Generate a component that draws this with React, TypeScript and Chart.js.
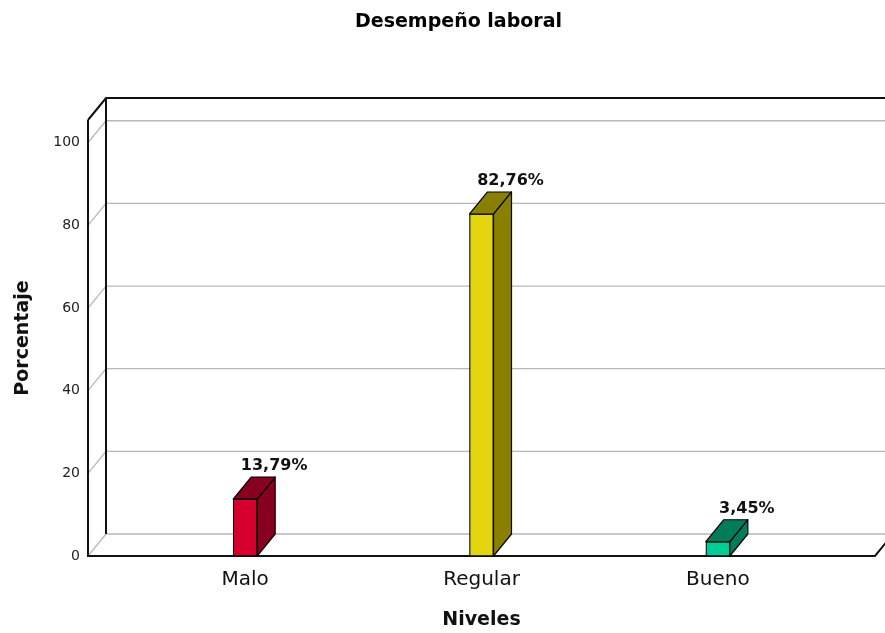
import React, { useEffect, useRef } from "react";
import { Chart, registerables } from "chart.js";

Chart.register(...registerables);

const chartTitle = "Desempeño laboral";
const categories = ["Malo", "Regular", "Bueno"];
const values = [13.79, 82.76, 3.45];
const valueLabels = ["13,79%", "82,76%", "3,45%"];
const frontColors = ["#d6002f", "#e4d60e", "#00cc96"];
const sideColors = ["#87001f", "#8a8000", "#007c5a"];
const yTicks = [0, 20, 40, 60, 80, 100];
const xTitle = "Niveles";
const yTitle = "Porcentaje";

const DX = 18;
const DY = -22;
const FONT = "'DejaVu Sans', sans-serif";

const threeD = {
  id: "threeD",
  beforeDatasetsDraw(chart: any) {
    const ctx = chart.ctx;
    const { left, right, top, bottom } = chart.chartArea;
    const ys = chart.scales.y;
    ctx.save();
    ctx.lineCap = "butt";
    ctx.strokeStyle = "#b8b8b8";
    ctx.lineWidth = 1.3;
    for (const t of ys.ticks) {
      const py = ys.getPixelForValue(t.value);
      ctx.beginPath();
      ctx.moveTo(left, py);
      ctx.lineTo(left + DX, py + DY);
      ctx.lineTo(right + DX + 20, py + DY);
      ctx.stroke();
    }
    ctx.strokeStyle = "#111";
    ctx.lineWidth = 2;
    ctx.beginPath();
    ctx.moveTo(left, top);
    ctx.lineTo(left + DX, top + DY);
    ctx.lineTo(right + DX + 20, top + DY);
    ctx.moveTo(left + DX, top + DY);
    ctx.lineTo(left + DX, bottom + DY);
    ctx.moveTo(left, top);
    ctx.lineTo(left, bottom);
    ctx.lineTo(right, bottom);
    ctx.lineTo(right + DX, bottom + DY);
    ctx.stroke();
    ctx.fillStyle = "#000";
    ctx.font = `bold 19px ${FONT}`;
    ctx.textAlign = "center";
    ctx.textBaseline = "middle";
    ctx.fillText(chartTitle, chart.width / 2 + 16, 22);
    ctx.restore();
  },
  afterDatasetsDraw(chart: any) {
    const ctx = chart.ctx;
    const meta = chart.getDatasetMeta(0);
    ctx.save();
    meta.data.forEach((bar: any, i: number) => {
      const { x, y, base, width } = bar.getProps(["x", "y", "base", "width"], true);
      const l = x - width / 2;
      const r = x + width / 2;
      ctx.fillStyle = sideColors[i];
      ctx.strokeStyle = "#000";
      ctx.lineWidth = 1.2;
      ctx.lineJoin = "round";
      ctx.beginPath();
      ctx.moveTo(r, y);
      ctx.lineTo(r + DX, y + DY);
      ctx.lineTo(r + DX, base + DY);
      ctx.lineTo(r, base);
      ctx.closePath();
      ctx.fill();
      ctx.stroke();
      ctx.beginPath();
      ctx.moveTo(l, y);
      ctx.lineTo(l + DX, y + DY);
      ctx.lineTo(r + DX, y + DY);
      ctx.lineTo(r, y);
      ctx.closePath();
      ctx.fill();
      ctx.stroke();
      ctx.fillStyle = "#111";
      ctx.font = `bold 16px ${FONT}`;
      ctx.textAlign = "center";
      ctx.textBaseline = "bottom";
      ctx.fillText(valueLabels[i], x + 29, y + DY - 3);
    });
    ctx.restore();
  },
};

export default function App() {
  const ref = useRef<HTMLCanvasElement | null>(null);
  useEffect(() => {
    if (!ref.current) return;
    const chart = new Chart(ref.current, {
      type: "bar",
      data: {
        datasets: [
          {
            data: values.map((v, i) => ({ x: i, y: v })),
            backgroundColor: frontColors,
            borderColor: "#000",
            borderWidth: 1.2,
            borderSkipped: false,
            barThickness: 24,
          },
        ],
      },
      options: {
        animation: false,
        responsive: false,
        devicePixelRatio: 1,
        layout: { padding: { top: 120, right: 10, left: 0, bottom: 0 } },
        plugins: {
          legend: { display: false },
          tooltip: { enabled: false },
          title: { display: false },
        },
        scales: {
          x: {
            type: "linear",
            offset: false,
            min: -0.665,
            max: 2.665,
            grid: { display: false, drawTicks: false, offset: false },
            border: { display: false },
            afterBuildTicks: (s: any) => {
              s.ticks = categories.map((_, i) => ({ value: i }));
            },
            afterFit: (s: any) => {
              s.height = 77;
            },
            ticks: {
              autoSkip: false,
              maxRotation: 0,
              padding: 12,
              color: "#111",
              font: { family: FONT, size: 20 },
              callback: (v: any) => categories[v as number] ?? "",
            },
            title: {
              display: true,
              text: xTitle,
              color: "#111",
              font: { family: FONT, size: 19, weight: "bold" },
              padding: { top: 0, bottom: 2 },
            },
          },
          y: {
            min: 0,
            max: 105.5,
            grid: { display: false, drawTicks: false },
            border: { display: false },
            afterBuildTicks: (s: any) => {
              s.ticks = yTicks.map((v) => ({ value: v }));
            },
            afterFit: (s: any) => {
              s.width = 88;
            },
            ticks: {
              padding: 8,
              color: "#222",
              font: { family: FONT, size: 14 },
            },
            title: {
              display: true,
              text: yTitle,
              color: "#111",
              font: { family: FONT, size: 19, weight: "bold" },
              padding: { top: 12, bottom: 0 },
            },
          },
        },
      },
      plugins: [threeD],
    } as any);
    return () => chart.destroy();
  }, []);
  return (
    <div style={{ position: "fixed", left: 0, top: 0, width: 885, height: 633, background: "#fff" }}>
      <canvas ref={ref} width={885} height={633} style={{ display: "block" }} />
    </div>
  );
}
